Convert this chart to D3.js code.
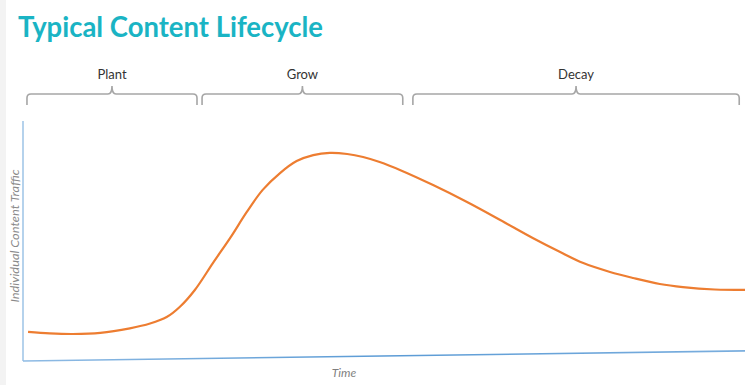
<!DOCTYPE html>
<html>
<head>
<meta charset="utf-8">
<script src="https://cdn.jsdelivr.net/npm/d3@7"></script>
<style>
  body { margin: 0; background: #fff; }
  svg { display: block; }
</style>
</head>
<body>
<div id="chart"></div>
<script>
// time (0-100) and traffic (0-100)
var time    = [0.7, 3.7, 6.9, 10.7, 14.8, 17.6, 19.9, 21.7, 23.8, 26.3, 28.7, 31.0, 33.2, 35.6, 37.9, 40.2, 42.5, 44.9, 47.1, 49.4, 52.2, 56.8, 61.5, 66.1, 70.6, 74.4, 77.6, 81.3, 84.5, 88.2, 91.4, 95.8, 100]
var traffic = [12.1, 11.5, 11.25, 11.7, 13.6, 15.6, 18.3, 22.5, 29.6, 40.8, 51.3, 62.1, 71.3, 78.3, 83.3, 85.8, 86.7, 86.25, 85, 82.9, 79.6, 73.3, 66.25, 58.75, 51.25, 45.4, 40.8, 37.1, 34.6, 32.1, 30.8, 29.8, 29.6]

// stages: start, end, label (in time units)
var stages     = ["Plant", "Grow", "Decay"]
var stageStart = [0.55, 24.8, 54.0]
var stageEnd   = [24.1, 52.6, 99.2]

// the time axis is drawn slightly rising
var axisTime  = [0, 100]
var axisLevel = [0, 4.2]

var width = 745
var height = 385
var plotLeft = 23, plotRight = 745, plotTop = 121, plotBottom = 361

var svg = d3.select("#chart")
	.append("svg")
	.attr("width", width)
	.attr("height", height)

// gray strip on the left edge
svg.append("rect")
	.attr("x", 0).attr("y", 0)
	.attr("width", 6).attr("height", height)
	.attr("fill", "#f3f3f3")

var x = d3.scaleLinear().domain([0, 100]).range([plotLeft, plotRight])
var y = d3.scaleLinear().domain([0, 100]).range([plotBottom, plotTop])

// Title
svg.append("text")
	.attr("x", 18)
	.attr("y", 37)
	.attr("textLength", 305)
	.attr("lengthAdjust", "spacingAndGlyphs")
	.style("font-family", "Lato, 'Open Sans', sans-serif")
	.style("font-weight", "bold")
	.style("font-size", "28px")
	.style("fill", "#1ab4c4")
	.text("Typical Content Lifecycle")

// Brackets above the plot
var bTop = 86, bMid = 94, bEnd = 105, r = 4
stages.forEach(function (s, i) {
	var x0 = x(stageStart[i]), x1 = x(stageEnd[i]), xm = (x0 + x1) / 2
	var p = d3.path()
	p.moveTo(x0, bEnd)
	p.lineTo(x0, bMid + r)
	p.quadraticCurveTo(x0, bMid, x0 + r, bMid)
	p.lineTo(xm - r, bMid)
	p.quadraticCurveTo(xm, bMid, xm, bTop)
	p.quadraticCurveTo(xm, bMid, xm + r, bMid)
	p.lineTo(x1 - r, bMid)
	p.quadraticCurveTo(x1, bMid, x1, bMid + r)
	p.lineTo(x1, bEnd)
	svg.append("path")
		.attr("d", p.toString())
		.attr("fill", "none")
		.attr("stroke", "#a6a6a6")
		.attr("stroke-width", 1.6)

	svg.append("text")
		.attr("x", xm)
		.attr("y", 79)
		.attr("text-anchor", "middle")
		.style("font-family", "Lato, 'Open Sans', sans-serif")
		.style("font-size", "13px")
		.style("fill", "#333")
		.text(s)
})

// Y axis
svg.append("line")
	.attr("x1", x(0)).attr("x2", x(0))
	.attr("y1", y(100)).attr("y2", y(0))
	.attr("stroke", "#9dc3e6")
	.attr("stroke-width", 1.5)

// X axis (gradient blue)
var grad = svg.append("defs").append("linearGradient")
	.attr("id", "axisGrad")
	.attr("gradientUnits", "userSpaceOnUse")
	.attr("x1", plotLeft).attr("x2", plotRight)
	.attr("y1", 0).attr("y2", 0)
grad.append("stop").attr("offset", "0%").attr("stop-color", "#8fbbe4")
grad.append("stop").attr("offset", "50%").attr("stop-color", "#5b9bd5")
grad.append("stop").attr("offset", "100%").attr("stop-color", "#7aaede")

svg.append("path")
	.datum(d3.zip(axisTime, axisLevel))
	.attr("fill", "none")
	.attr("stroke", "url(#axisGrad)")
	.attr("stroke-width", 1.6)
	.attr("d", d3.line()
		.x(function (d) { return x(d[0]) })
		.y(function (d) { return y(d[1]) }))

// axis titles
svg.append("text")
	.attr("transform", "translate(19,236) rotate(-90)")
	.attr("text-anchor", "middle")
	.attr("textLength", 133)
	.attr("lengthAdjust", "spacingAndGlyphs")
	.style("font-family", "Lato, 'Open Sans', sans-serif")
	.style("font-style", "italic")
	.style("font-size", "12px")
	.style("fill", "#8a8a8a")
	.text("Individual Content Traffic")

svg.append("text")
	.attr("x", 344)
	.attr("y", 377)
	.attr("text-anchor", "middle")
	.style("font-family", "Lato, 'Open Sans', sans-serif")
	.style("font-style", "italic")
	.style("font-size", "12px")
	.style("fill", "#7f7f7f")
	.text("Time")

// Traffic curve
svg.append("path")
	.datum(d3.zip(time, traffic))
	.attr("fill", "none")
	.attr("stroke", "#ed7d31")
	.attr("stroke-width", 2.2)
	.attr("d", d3.line()
		.curve(d3.curveCatmullRom.alpha(0.5))
		.x(function (d) { return x(d[0]) })
		.y(function (d) { return y(d[1]) }))
</script>
</body>
</html>
